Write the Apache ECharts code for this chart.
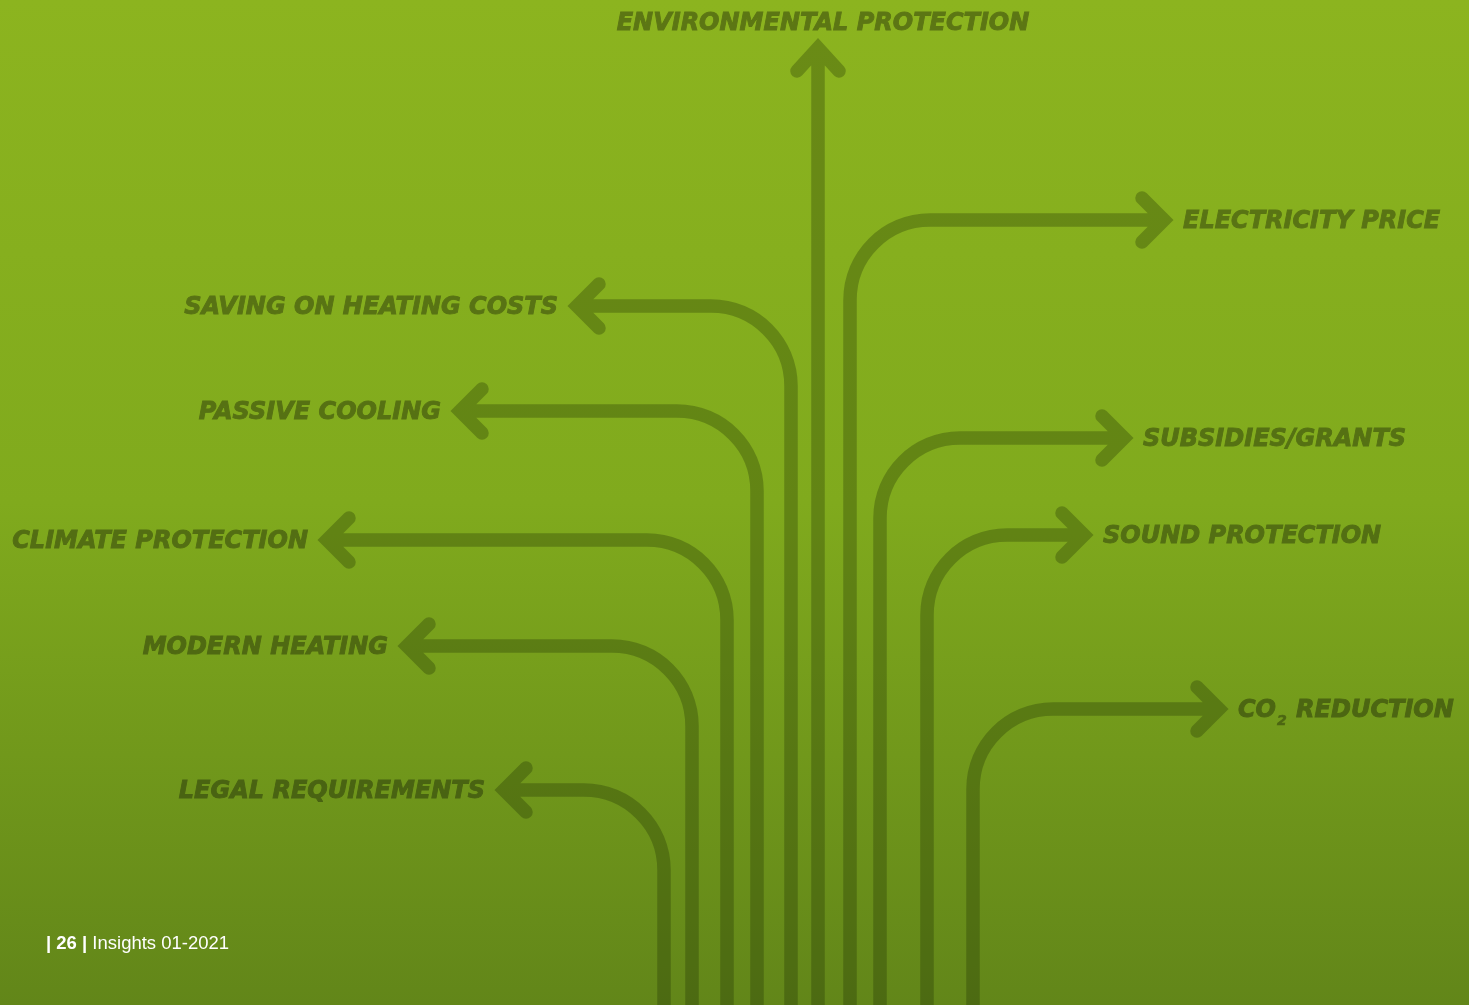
<!DOCTYPE html>
<html>
<head>
<meta charset="utf-8">
<title>Drivers</title>
<script src="https://cdn.jsdelivr.net/npm/echarts@6/dist/echarts.min.js"></script>
<style>
  html, body { margin: 0; padding: 0; }
  #main { width: 1469px; height: 1005px; }
</style>
</head>
<body>
<div id="main"></div>
<script>
// arrows: stem comes up from the bottom, turns at rowY and ends at tipX
const labels = [
  'ENVIRONMENTAL PROTECTION',
  'SAVING ON HEATING COSTS',
  'PASSIVE COOLING',
  'CLIMATE PROTECTION',
  'MODERN HEATING',
  'LEGAL REQUIREMENTS',
  'ELECTRICITY PRICE',
  'SUBSIDIES/GRANTS',
  'SOUND PROTECTION',
  'CO{sub|2} REDUCTION'
];
const stemX = [818, 791, 757, 727, 692, 664, 850, 880, 927, 973];
const rowY  = [48, 306, 411, 540, 646, 790, 220, 438, 535, 709];
const tipX  = [818, 577, 460, 327, 407, 504, 1164, 1124, 1084, 1219];

const W = 1469, H = 1005;
const RADIUS = 80;
const LINE = 'rgba(20,35,0,0.28)';

// background stops, also used to shade the label text
const bgStops = [[0, [140, 180, 31]], [0.5, [128, 170, 29]], [1, [98, 134, 25]]];

function bgAt(t) {
  for (let i = 1; i < bgStops.length; i++) {
    if (t <= bgStops[i][0]) {
      const a = bgStops[i - 1], b = bgStops[i];
      const f = (t - a[0]) / (b[0] - a[0]);
      return a[1].map((v, k) => v + (b[1][k] - v) * f);
    }
  }
  return bgStops[bgStops.length - 1][1];
}
function textColor(y) {
  const c = bgAt(y / H).map(v => Math.round(v * 0.66));
  return 'rgb(' + c.join(',') + ')';
}
const rgb = c => 'rgb(' + c.join(',') + ')';

const chart = echarts.init(document.getElementById('main'));

function renderItem(params, api) {
  const sx = api.value(0), ry = api.value(1), tx = api.value(2);
  const i = params.dataIndex;
  const pt = (x, y) => api.coord([x, y]).join(' ');
  let d, label;
  if (tx === sx) {
    d = 'M ' + pt(sx, H + 20) + ' L ' + pt(sx, ry) +
        ' M ' + pt(sx - 21, ry + 23) + ' L ' + pt(sx, ry) + ' L ' + pt(sx + 21, ry + 23);
    const c = api.coord([sx + 5, ry - 24]);
    label = { x: c[0], y: c[1], align: 'center' };
  } else {
    const dir = tx < sx ? -1 : 1;
    const k = 0.5523 * RADIUS;
    d = 'M ' + pt(sx, H + 20) +
        ' L ' + pt(sx, ry + RADIUS) +
        ' C ' + pt(sx, ry + RADIUS - k) + ' ' + pt(sx + dir * (RADIUS - k), ry) + ' ' + pt(sx + dir * RADIUS, ry) +
        ' L ' + pt(tx, ry) +
        ' M ' + pt(tx - dir * 22, ry - 22) + ' L ' + pt(tx, ry) + ' L ' + pt(tx - dir * 22, ry + 22);
    const c = api.coord([tx + dir * 19, ry + 1.5]);
    label = { x: c[0], y: c[1], align: dir < 0 ? 'right' : 'left' };
  }
  const col = textColor(label.y);
  return {
    type: 'group',
    children: [
      {
        type: 'path',
        shape: { pathData: d },
        style: { fill: null, stroke: LINE, lineWidth: 13.5, lineCap: 'round', lineJoin: 'miter' }
      },
      {
        type: 'text',
        x: label.x,
        y: label.y,
        style: {
          text: labels[i],
          fill: col,
          stroke: col,
          lineWidth: 0.9,
          fontFamily: 'DejaVu Sans',
          fontWeight: 'bold',
          fontStyle: 'italic',
          fontSize: 24,
          align: label.align,
          verticalAlign: 'middle',
          rich: {
            sub: {
              fill: col,
              stroke: col,
              lineWidth: 0.6,
              fontFamily: 'DejaVu Sans',
              fontWeight: 'bold',
              fontStyle: 'italic',
              fontSize: 14,
              verticalAlign: 'bottom',
              padding: [22, 1, 0, 1]
            }
          }
        }
      }
    ]
  };
}

chart.setOption({
  backgroundColor: {
    type: 'linear', x: 0, y: 0, x2: 0, y2: 1,
    colorStops: bgStops.map(s => ({ offset: s[0], color: rgb(s[1]) }))
  },
  animation: false,
  grid: { left: 0, right: 0, top: 0, bottom: 0 },
  xAxis: { type: 'value', min: 0, max: W, show: false },
  yAxis: { type: 'value', min: 0, max: H, inverse: true, show: false },
  graphic: [
    {
      type: 'text',
      left: 46,
      top: 934,
      style: {
        text: '{b|| 26 |} Insights 01-2021',
        fill: '#ffffff',
        fontFamily: 'Liberation Sans',
        fontSize: 18.5,
        rich: {
          b: { fill: '#ffffff', fontFamily: 'Liberation Sans', fontSize: 18.5, fontWeight: 'bold' }
        }
      }
    }
  ],
  series: [
    {
      type: 'custom',
      renderItem: renderItem,
      clip: false,
      data: stemX.map((x, i) => [x, rowY[i], tipX[i]])
    }
  ]
});
</script>
</body>
</html>
